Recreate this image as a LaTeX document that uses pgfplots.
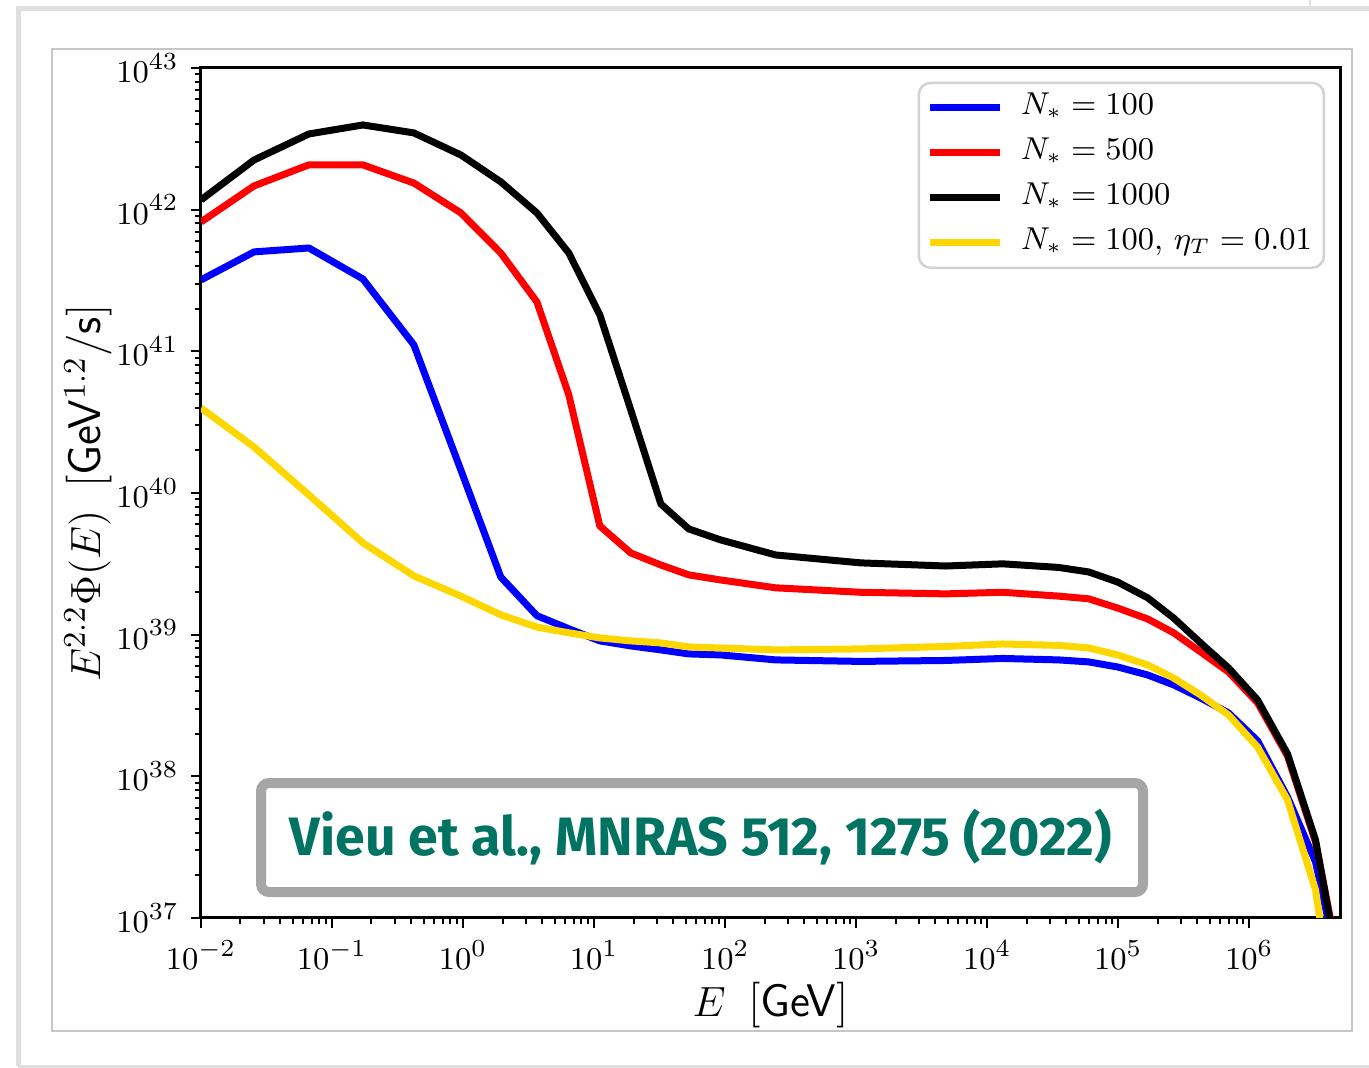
\documentclass[border=0pt]{standalone}
\usepackage{pgfplots}
\pgfplotsset{compat=1.18}
\usepackage{fontspec}
\usepackage{graphicx}
\newfontfamily\annfont{Fira Sans}
\definecolor{mplgold}{RGB}{255,215,0}
\definecolor{annteal}{RGB}{0,115,98}
\definecolor{boxgray}{RGB}{166,166,166}

\begin{document}
\begin{tikzpicture}
\useasboundingbox (0,0) rectangle (136.9mm,-106.7mm);
% page frames
\begin{scope}[x=0.1mm,y=-0.1mm]
  \draw[gray!25, line width=0.5mm] (18,1066) -- (18,8) -- (1369,8);
  \draw[gray!25, line width=0.3mm] (18,1066) -- (1369,1066);
  \draw[gray!25, line width=0.2mm] (1310,0) -- (1310,8);
  \draw[gray!45, line width=0.15mm] (52,49) rectangle (1352,1031);
\end{scope}

\begin{axis}[
  at={(20.1mm,-91.8mm)}, anchor=south west,
  scale only axis, width=113.9mm, height=85mm,
  xmode=log, ymode=log,
  xmin=1e-2, xmax=4.92e6, ymin=1e37, ymax=1e43,
  xtick={1e-2,1e-1,1,10,100,1000,1e4,1e5,1e6},
  ytick={1e37,1e38,1e39,1e40,1e41,1e42,1e43},
  xtick pos=left, ytick pos=left,
  tick align=outside,
  major tick length=1mm, minor tick length=0.6mm,
  every tick/.style={black, line width=0.2mm},
  axis line style={line width=0.3mm},
  tick label style={font=\fontsize{9.5}{10}\selectfont},
  xlabel={$E$\ \,[\textsf{GeV}]},
  ylabel={$E^{2.2}\Phi(E)$\ \,[\textsf{GeV}$^{1.2}$\textsf{/s}]},
  label style={font=\fontsize{13}{14}\selectfont},
  xlabel style={at={(axis description cs:0.5,-0.1165)}, anchor=base},
  ylabel style={at={(axis description cs:-0.0992,0.5)}, anchor=center},
  legend cell align=left,
  legend image code/.code={\draw[#1] (0mm,0mm) -- (7mm,0mm); \path (8.3mm,0mm);},
  legend style={at={(0.987,0.984)}, anchor=north east,
    draw=gray!35, line width=0.25mm, rounded corners=1.2mm, fill=white,
    font=\fontsize{8.6}{10}\selectfont,
    inner xsep=0.8mm, inner ysep=0.5mm, row sep=0.5mm,
    nodes={text height=2.3mm, text depth=0.9mm, inner sep=0.4mm}},
  every axis plot/.append style={line width=0.7mm, line join=round},
]
\addplot[blue] coordinates {
 (0.01,3.19e41) (0.0254,5.03e41) (0.0666,5.36e41) (0.172,3.24e41)
 (0.421,1.11e41) (0.962,1.45e40) (1.94,2.55e39) (3.66,1.36e39)
 (6.41,1.10e39) (11.05,9.03e38) (19.05,8.32e38) (32.3,7.80e38)
 (52.8,7.31e38) (92.5,7.19e38) (243,6.63e38) (1082,6.47e38)
 (4820,6.57e38) (13120,6.79e38) (35080,6.63e38) (59400,6.42e38)
 (98900,5.91e38) (167500,5.19e38) (264300,4.42e38) (424600,3.57e38)
 (693700,2.80e38) (1.156e6,1.78e38) (1.956e6,7.15e37) (3.199e6,2.49e37)
 (4.39e6,6.5e36)};
\addlegendentry{$N_* = 100$}
\addplot[red] coordinates {
 (0.01,8.18e41) (0.0254,1.47e42) (0.0666,2.07e42) (0.172,2.07e42)
 (0.421,1.54e42) (0.962,9.48e41) (1.94,4.94e41) (3.66,2.23e41)
 (6.41,4.92e40) (11.05,5.85e39) (19.05,3.77e39) (32.3,3.10e39)
 (52.8,2.64e39) (92.5,2.43e39) (243,2.14e39) (1082,1.99e39)
 (4820,1.94e39) (13120,1.99e39) (35080,1.87e39) (59400,1.79e39)
 (98900,1.54e39) (167500,1.29e39) (264300,1.03e39) (424600,7.55e38)
 (693700,5.45e38) (1.156e6,3.30e38) (1.956e6,1.39e38) (3.199e6,3.44e37)
 (4.7e6,5.5e36)};
\addlegendentry{$N_* = 500$}
\addplot[black] coordinates {
 (0.01,1.17e42) (0.0254,2.24e42) (0.0666,3.42e42) (0.172,3.96e42)
 (0.421,3.48e42) (0.962,2.43e42) (1.94,1.57e42) (3.66,9.48e41)
 (6.41,4.94e41) (11.05,1.81e41) (19.05,3.85e40) (32.3,8.36e39)
 (52.8,5.57e39) (92.5,4.66e39) (243,3.65e39) (1082,3.21e39)
 (4820,3.05e39) (13120,3.16e39) (35080,2.98e39) (59400,2.77e39)
 (98900,2.35e39) (167500,1.82e39) (264300,1.31e39) (424600,8.74e38)
 (693700,5.82e38) (1.156e6,3.46e38) (1.956e6,1.44e38) (3.199e6,3.55e37)
 (4.55e6,5.9e36)};
\addlegendentry{$N_* = 1000$}
\addplot[mplgold] coordinates {
 (0.01,3.98e40) (0.0254,2.11e40) (0.0666,9.68e39) (0.172,4.44e39)
 (0.421,2.60e39) (0.962,1.87e39) (1.94,1.38e39) (3.66,1.13e39)
 (6.41,1.03e39) (11.05,9.48e38) (19.05,9.03e38) (32.3,8.74e38)
 (52.8,8.19e38) (92.5,8.05e38) (243,7.80e38) (1082,7.93e38)
 (4820,8.25e38) (13120,8.59e38) (35080,8.39e38) (59400,8.05e38)
 (98900,7.19e38) (167500,6.11e38) (264300,4.94e38) (424600,3.75e38)
 (693700,2.71e38) (1.156e6,1.61e38) (1.956e6,6.81e37) (3.199e6,1.58e37)
 (3.6e6,7.6e36)};
\addlegendentry{$N_* = 100,\, \eta_T = 0.01$}
\end{axis}

% citation box
\begin{scope}[x=0.1mm,y=-0.1mm]
  \draw[boxgray, line width=1mm, rounded corners=0.8mm, fill=white]
    (261,783) rectangle (1143,892);
  \node[annteal, inner sep=0] at (701,837)
    {\resizebox*{82.2mm}{5.6mm}{\annfont\bfseries Vieu et al., MNRAS 512, 1275 (2022)}};
\end{scope}
\end{tikzpicture}
\end{document}
